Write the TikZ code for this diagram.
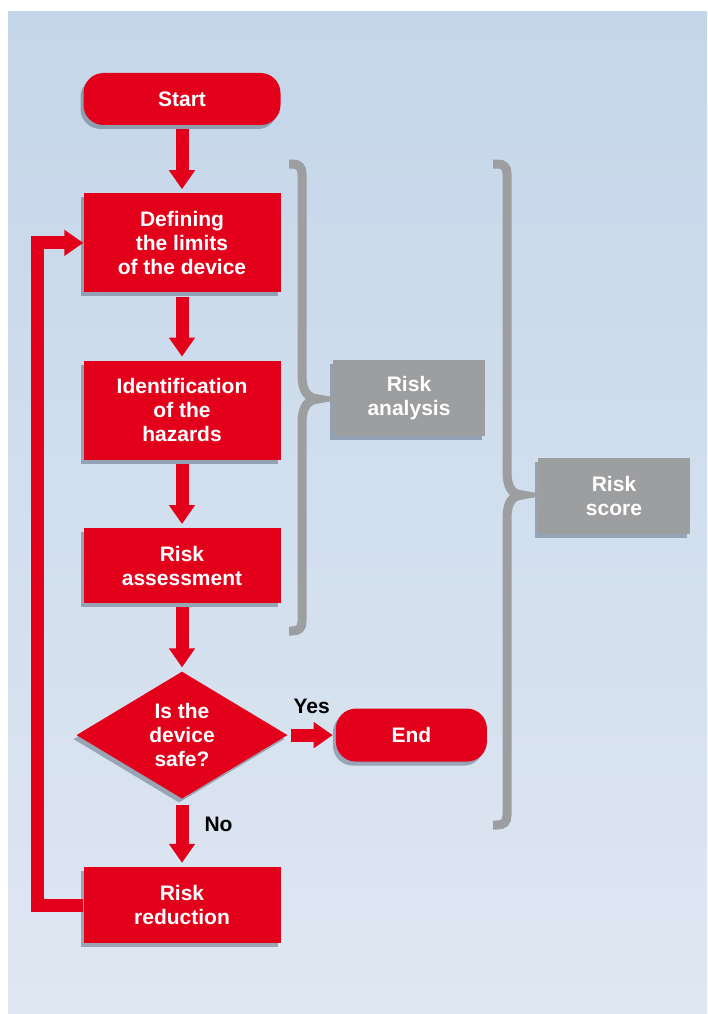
\documentclass[tikz,border=0pt]{standalone}
\usepackage{fontspec}
\setmainfont{Liberation Sans}
\usetikzlibrary{positioning, arrows.meta, shapes.geometric, shadows}

\definecolor{signalred}{HTML}{E2001A}
\definecolor{bracegray}{HTML}{9D9EA0}
\definecolor{panetop}{HTML}{C4D6E9}
\definecolor{panebottom}{HTML}{DFE7F2}
\definecolor{shadowblue}{HTML}{4A5A70}

\tikzset{
  boxshadow/.style={drop shadow={shadow xshift=-3pt,shadow yshift=-4pt,fill=shadowblue,opacity=.45}},
  stepbox/.style={rectangle, fill=signalred, text=white, font=\bfseries\fontsize{21}{24}\selectfont,
    align=center, minimum width=197pt, inner sep=0pt, boxshadow},
  terminal/.style={stepbox, rounded corners=20pt, minimum height=52pt},
  decision/.style={stepbox, diamond, aspect=1.66, minimum width=211pt, minimum height=127pt},
  phasebox/.style={stepbox, fill=bracegray, minimum width=152pt, minimum height=76pt},
  flow/.style={draw=signalred, line width=13pt, -{Triangle[width=25pt,length=19pt]},
    shorten <=4pt, shorten >=4pt},
  bracket/.style={draw=bracegray, line width=9pt},
  answer/.style={font=\bfseries\fontsize{21}{24}\selectfont, inner sep=0pt},
}

\begin{document}
\begin{tikzpicture}[x=1pt,y=-1pt,node distance=68pt]
  \useasboundingbox[fill=white] (0,0) rectangle (707,1014);
  \fill[top color=panetop,bottom color=panebottom] (8,12) rectangle (707,1014);

  % main column
  \node[terminal] (start) at (182,99) {Start};
  \node[stepbox,minimum height=99pt,below=of start] (limits) {Defining\\the limits\\of the device};
  \node[stepbox,minimum height=99pt,below=of limits] (hazards) {Identification\\of the\\hazards};
  \node[stepbox,minimum height=75pt,below=of hazards] (assess) {Risk\\assessment};
  \node[decision,below=of assess] (safe) {Is the\\device\\safe?};
  \node[stepbox,minimum height=76pt,below=of safe] (reduction) {Risk\\reduction};
  \node[terminal,minimum width=151pt,minimum height=53pt,right=48pt of safe] (stop) {End};

  % phases
  \node[phasebox] (analysis) at (409,398) {Risk\\analysis};
  \node[phasebox] (score) at (614,496) {Risk\\score};

  \draw[bracket] (289,164) -- (292,164) .. controls (299,164) and (302,167) .. (302,174)
    -- (302,375) .. controls (302,392) and (308,398) .. (318,399)
    .. controls (308,400) and (302,406) .. (302,423)
    -- (302,621) .. controls (302,628) and (299,631) .. (292,631) -- (289,631);
  \draw[bracket] (493,164) -- (497,164) .. controls (504,164) and (507,167) .. (507,174)
    -- (507,471) .. controls (507,488) and (512,494) .. (522,495)
    .. controls (512,496) and (507,502) .. (507,519)
    -- (507,815) .. controls (507,822) and (504,825) .. (497,825) -- (493,825);

  % arrows
  \draw[flow] (start) -- (limits);
  \draw[flow] (limits) -- (hazards);
  \draw[flow] (hazards) -- (assess);
  \draw[flow] (assess) -- (safe);
  \draw[flow,shorten <=6pt] (safe) -- node[answer,pos=.37,right=16pt] {No} (reduction);
  \draw[flow,shorten <=3pt,shorten >=3pt] (safe) -- node[answer,above=15pt] {Yes} (stop);
  \draw[flow,shorten <=0pt,shorten >=0pt] (reduction.west) -- ++(-46,0) |- (limits.west);
\end{tikzpicture}
\end{document}
